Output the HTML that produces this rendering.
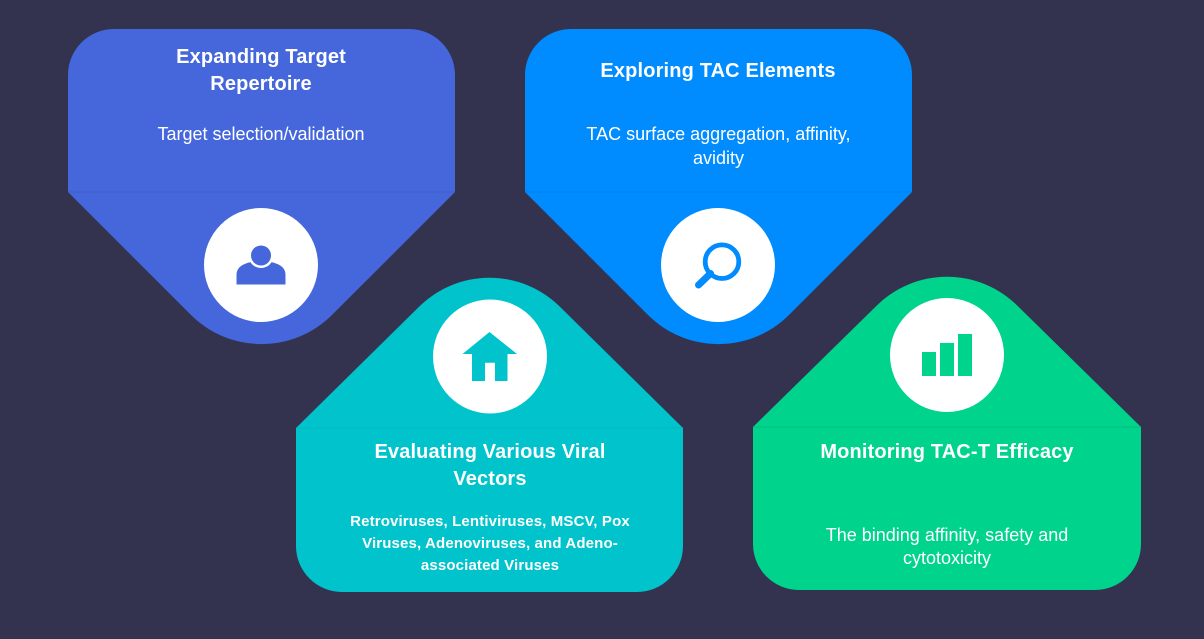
<!DOCTYPE html>
<html><head><meta charset="utf-8"><style>
html,body{margin:0;padding:0;background:#33334f;width:1204px;height:639px;overflow:hidden}
svg{display:block}
text{font-family:"Liberation Sans",sans-serif;fill:#fff;text-anchor:middle}
.t{font-size:20px;font-weight:700;letter-spacing:.15px}
.b{font-size:18px}
.s{font-size:15px;font-weight:700;letter-spacing:.14px}
</style></head><body>
<svg width="1204" height="639" viewBox="0 0 1204 639">
<rect width="1204" height="639" fill="#33334f"/>
<!-- Card 1 -->
<path d="M68 192V75A46 46 0 0 1 114 29H409A46 46 0 0 1 455 75V192L332.2 314.8A100 100 0 0 1 190.8 314.8Z" fill="#4667db"/>
<path d="M68 192H455" stroke="#3f5cc5" stroke-width="1"/>
<circle cx="261" cy="265" r="57" fill="#fff"/>
<path d="M236.5 284.5V275C236.5 267 243 264 251 262H271C279 264 285.5 267 285.5 275V284.5Z" fill="#4667db"/>
<circle cx="261" cy="255.5" r="12.5" fill="#fff"/>
<circle cx="261" cy="255.5" r="10" fill="#4667db"/>
<text class="t" x="261" y="63">Expanding Target</text>
<text class="t" x="261" y="90">Repertoire</text>
<text class="b" x="261" y="140">Target selection/validation</text>
<!-- Card 2 -->
<path d="M525 192V75A46 46 0 0 1 571 29H866A46 46 0 0 1 912 75V192L789.2 314.8A100 100 0 0 1 647.8 314.8Z" fill="#008cff"/>
<path d="M525 192H912" stroke="#007fe6" stroke-width="1"/>
<circle cx="718" cy="265" r="57" fill="#fff"/>
<circle cx="722" cy="261.7" r="16.8" fill="none" stroke="#008cff" stroke-width="4.8"/>
<path d="M698.5 285L710.5 273.5" stroke="#008cff" stroke-width="7" stroke-linecap="round"/>
<text class="t" x="718" y="77">Exploring TAC Elements</text>
<text class="b" x="718.5" y="140">TAC surface aggregation, affinity,</text>
<text class="b" x="718.5" y="164">avidity</text>
<!-- Card 3 -->
<path d="M296 428V546A46 46 0 0 0 342 592H637A46 46 0 0 0 683 546V428L560.2 307A100 100 0 0 0 418.8 307Z" fill="#00c3cc"/>
<path d="M296 428H683" stroke="#00b8c0" stroke-width="1"/>
<circle cx="490" cy="356.5" r="57" fill="#fff"/>
<path d="M489.5 332L517 354H507.5V381H495V362.7H485V381H472V354H462.5Z" fill="#00c3cc"/>
<text class="t" x="490" y="458">Evaluating Various Viral</text>
<text class="t" x="490" y="485">Vectors</text>
<text class="s" x="490" y="526">Retroviruses, Lentiviruses, MSCV, Pox</text>
<text class="s" x="490" y="548">Viruses, Adenoviruses, and Adeno-</text>
<text class="s" x="490" y="570">associated Viruses</text>
<!-- Card 4 -->
<path d="M753 427V544A46 46 0 0 0 799 590H1095A46 46 0 0 0 1141 544V427L1017.7 306A100 100 0 0 0 876.3 306Z" fill="#00d38c"/>
<path d="M753 427H1141" stroke="#00bf7f" stroke-width="1"/>
<circle cx="947" cy="355" r="57" fill="#fff"/>
<rect x="922" y="352" width="14" height="24" fill="#00d38c"/>
<rect x="940" y="343" width="14" height="33" fill="#00d38c"/>
<rect x="958" y="334" width="14" height="42" fill="#00d38c"/>
<text class="t" x="947" y="458">Monitoring TAC-T Efficacy</text>
<text class="b" x="947" y="541">The binding affinity, safety and</text>
<text class="b" x="947" y="564">cytotoxicity</text>
</svg>
</body></html>
